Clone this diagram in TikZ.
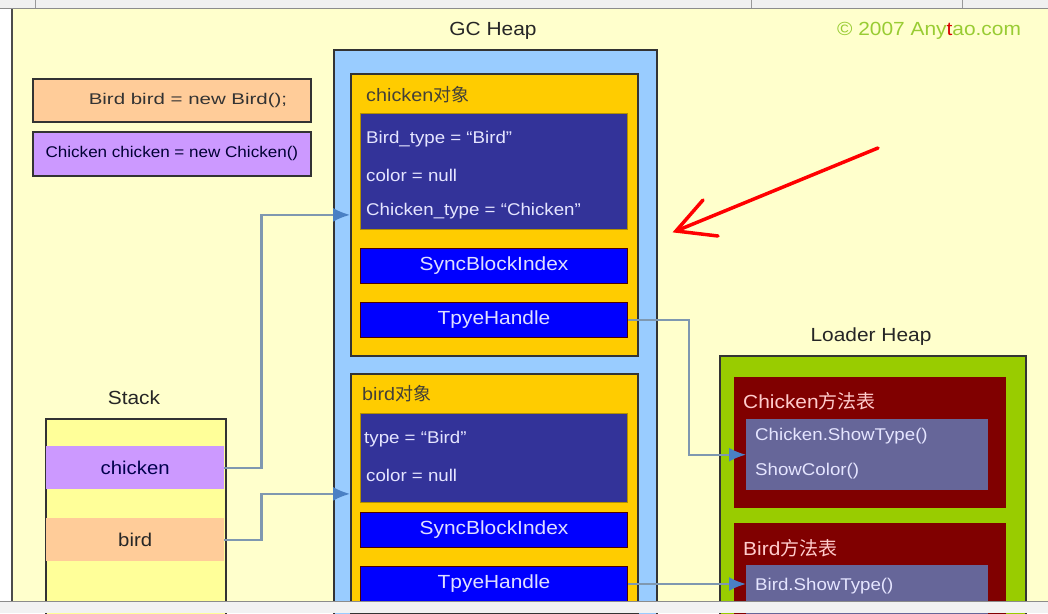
\documentclass[tikz,border=0pt]{standalone}
\usepackage{fontspec}
\setmainfont[FakeStretch=1.1]{Liberation Sans}
\newfontfamily\cjk[FakeStretch=1.0]{Noto Sans CJK SC}
\usetikzlibrary{arrows.meta}
\definecolor{bgc}{HTML}{FFFFCC}
\definecolor{peach}{HTML}{FFCC99}
\definecolor{lav}{HTML}{CC99FF}
\definecolor{heapblue}{HTML}{99CCFF}
\definecolor{gold}{HTML}{FFCC00}
\definecolor{navy}{HTML}{333399}
\definecolor{pureblue}{HTML}{0000FF}
\definecolor{stackyel}{HTML}{FFFF99}
\definecolor{lgreen}{HTML}{99CC00}
\definecolor{maroon}{HTML}{800000}
\definecolor{slate}{HTML}{666699}
\definecolor{conncol}{HTML}{7F98B0}
\definecolor{tipcol}{HTML}{4A80C4}
\definecolor{olive}{HTML}{99CC33}
\definecolor{edgecol}{HTML}{333333}
\begin{document}
\begin{tikzpicture}[x=1pt,y=-1pt,
  box/.style={draw=edgecol,line width=1.8pt,inner sep=0pt,anchor=north west},
  flat/.style={inner sep=0pt,anchor=north west},
  lbl/.style={inner sep=0pt,font=\fontsize{19}{21}\selectfont,text=black!85},
  code/.style={inner sep=0pt,font=\fontsize{15.5}{17}\selectfont},
  field/.style={inner sep=0pt,anchor=west,text=white!90!blue,font=\fontsize{17}{19}\selectfont},
  slot/.style={box,fill=pureblue,draw=maroon!60!black,line width=1pt,minimum width=267pt,minimum height=35pt,text=white!88!blue,font=\fontsize{19}{21}\selectfont},
  conn/.style={draw=conncol,line width=2.2pt,-{Latex[length=17pt,width=14pt,color=tipcol]}}]
\useasboundingbox (0,0) rectangle (1048,613);
% frame of the screenshot
\fill[white] (0,0) rectangle (1048,613);
\fill[bgc] (12,8) rectangle (1048,601);
\draw[black!70,line width=1.2pt] (12,8) -- (12,601);
\fill[black!6] (0,0) rectangle (1048,8);
\draw[black!45,line width=1pt] (0,8) -- (1048,8);
\draw[black!40] (35,0) -- (35,8) (751,0) -- (751,8) (962,0) -- (962,8);

% titles
\node[lbl] (gct) at (493,31) {GC Heap};
\node[inner sep=0pt,font=\fontsize{19}{21}\selectfont,text=olive] (copy) at (929,31) {\textcopyright{} 2007 Any\textcolor{red!85!black}{t}ao.com};
\node[lbl] (stt) at (134,398) {Stack};
\node[lbl] (ldt) at (871,337) {Loader Heap};

% declarations
\node[box,fill=peach,minimum width=278pt,minimum height=43pt] (decb) at (32,78) {};
\node[code,text=black!80] (decbt) at (188,100) {\scalebox{1.2}[1]{Bird bird = new Bird();}};
\node[box,fill=lav,minimum width=278pt,minimum height=44pt,code,text=black!80!blue] (decc) at (32,131) {Chicken chicken = new Chicken()};

% GC heap
\node[box,fill=heapblue,minimum width=323pt,minimum height=570pt] (gc) at (333,49) {};
% chicken object
\node[box,fill=gold,minimum width=287pt,minimum height=282pt] (cobj) at (350,73) {};
\node[inner sep=0pt,anchor=west,font=\fontsize{18}{20}\selectfont,text=black!85!yellow] (ctit) at (366,95) {chicken{\cjk 对象}};
\node[box,fill=navy,draw=gold!70!black,line width=1pt,minimum width=267pt,minimum height=116pt] (cfld) at (360,113) {};
\node[field] (cf1) at (366,139) {Bird\_type = “Bird”};
\node[field] (cf2) at (366,175) {color = null};
\node[field] (cf3) at (366,211) {Chicken\_type = “Chicken”};
\node[slot] (csync) at (360,248) {SyncBlockIndex};
\node[slot] (cth) at (360,302) {TpyeHandle};
% bird object
\node[box,fill=gold,minimum width=287pt,minimum height=240pt] (bobj) at (350,373) {};
\node[inner sep=0pt,anchor=west,font=\fontsize{18}{20}\selectfont,text=black!85!yellow] (btit) at (362,394) {bird{\cjk 对象}};
\node[box,fill=navy,draw=gold!70!black,line width=1pt,minimum width=267pt,minimum height=89pt] (bfld) at (360,413) {};
\node[field] (bf1) at (364,439) {type = “Bird”};
\node[field] (bf2) at (366,475) {color = null};
\node[slot] (bsync) at (360,512) {SyncBlockIndex};
\node[slot] (bth) at (360,566) {TpyeHandle};

% stack
\node[box,fill=stackyel,minimum width=180pt,minimum height=200pt] (stk) at (45,418) {};
\node[flat,fill=lav,minimum width=178pt,minimum height=43pt,font=\fontsize{18.5}{20}\selectfont,text=black!70!blue] (schk) at (46,446) {chicken};
\node[flat,fill=peach,minimum width=178pt,minimum height=43pt,font=\fontsize{18.5}{20}\selectfont,text=black!85] (sbrd) at (46,518) {bird};

% loader heap
\node[box,fill=lgreen,minimum width=306pt,minimum height=270pt] (ld) at (719,355) {};
\node[flat,fill=maroon,minimum width=272pt,minimum height=131pt] (cmt) at (734,377) {};
\node[inner sep=0pt,anchor=west,font=\fontsize{19}{21}\selectfont,text=white!80!red] (cmtt) at (743,401) {Chicken{\cjk 方法表}};
\node[flat,fill=slate,minimum width=242pt,minimum height=71pt] (cmi) at (746,419) {};
\node[field] (cm1) at (755,436) {Chicken.ShowType()};
\node[field] (cm2) at (755,471) {ShowColor()};
\node[flat,fill=maroon,minimum width=272pt,minimum height=100pt] (bmt) at (734,523) {};
\node[inner sep=0pt,anchor=west,font=\fontsize{19}{21}\selectfont,text=white!80!red] (bmtt) at (743,548) {Bird{\cjk 方法表}};
\node[flat,fill=slate,minimum width=242pt,minimum height=60pt] (bmi) at (746,565) {};
\node[field] (bm1) at (755,586) {Bird.ShowType()};

% connectors
\draw[conn] (schk.east) -- ++(37,0) |- (cobj.west);
\draw[conn] (sbrd.east) -- ++(37,0) |- (bobj.west);
\draw[conn] (cth.east) -- ++(61,0) |- (cmi.west);
\draw[conn] (bth.east) -- (bth.east -| bmi.west);

% red arrow
\coordinate (ra) at (878,148);
\coordinate (rb) at (676,231);
\coordinate (rc) at (703,200);
\coordinate (rd) at (718,236);
\draw[red,line width=3.5pt,line cap=round,line join=round] (ra) -- (rb);
\draw[red,line width=3.5pt,line cap=round,line join=miter] (rc) -- (rb) -- (rd);

% bottom bar of the screenshot
\fill[black!5] (0,601) rectangle (1048,613);
\draw[black!45,line width=1pt] (0,601) -- (1048,601);
\end{tikzpicture}
\end{document}
